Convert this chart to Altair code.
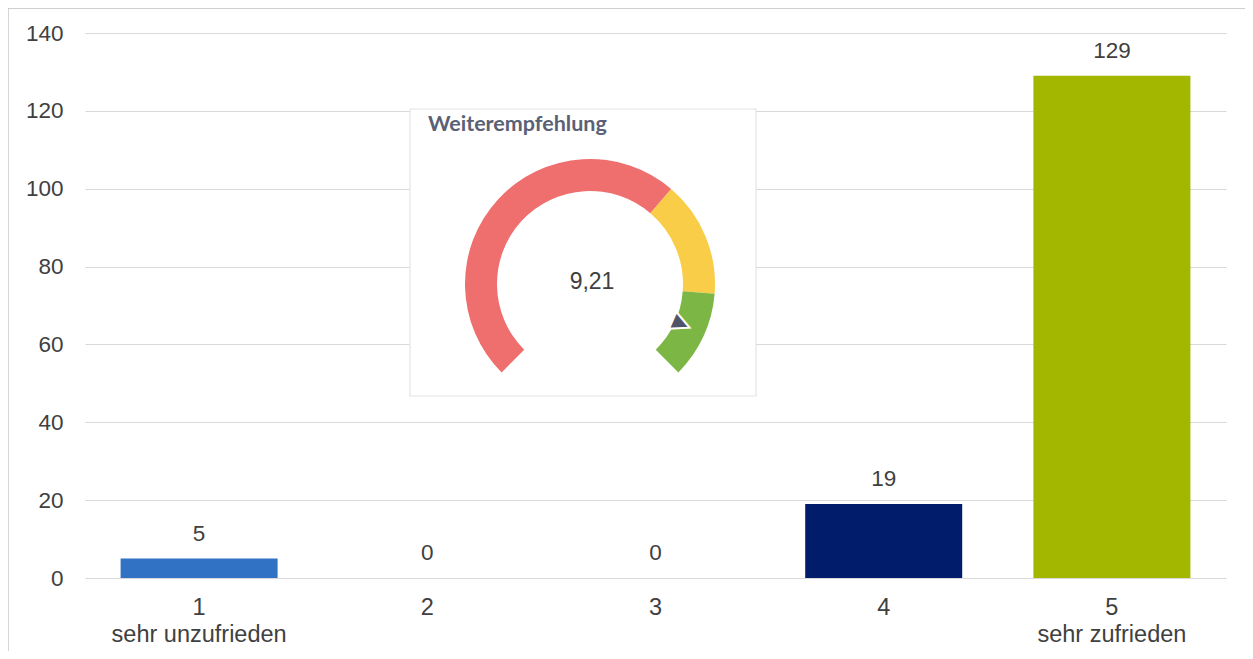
import math
import altair as alt
import pandas as pd

# ---- data ----
categories = ["1", "2", "3", "4", "5"]
sublabels = ["sehr unzufrieden", "", "", "", "sehr zufrieden"]
counts = [5, 0, 0, 19, 129]
bar_colors = ["#3172c4", "#3172c4", "#3172c4", "#001c6b", "#a3b600"]
y_ticks = [0, 20, 40, 60, 80, 100, 120, 140]

gauge_title = "Weiterempfehlung"
gauge_value = 9.21
gauge_min, gauge_max = 0, 10
seg_start = [0, 6.5, 8.5]
seg_end = [6.5, 8.5, 10]
seg_colors = ["#ef6e6e", "#f9cd48", "#7cb645"]

# ---- layout / style constants ----
W, H = 1141, 545
FONT = "Liberation Sans"
TXT = "#404040"
FS = 22.5
GX, GY = 505, 251          # gauge centre (px, inside plot area)
R_IN, R_OUT = 93, 125
SPAN = 135                 # half sweep in degrees

bars_df = pd.DataFrame({"cat": categories, "count": counts, "color": bar_colors})
seg_df = pd.DataFrame({"start": seg_start, "end": seg_end, "color": seg_colors})
val_df = pd.DataFrame({"v": [gauge_value],
                       "label": [f"{gauge_value:.2f}".replace(".", ",")],
                       "title": [gauge_title]})
one = pd.DataFrame({"k": [0]})

label_expr = " : ".join(
    f"datum.value == '{c}' ? ['{c}', '{s}']" for c, s in zip(categories, sublabels) if s
) + " : datum.label"

x_enc = alt.X("cat:N", sort=categories,
              scale=alt.Scale(paddingInner=0.312, paddingOuter=0.156),
              axis=alt.Axis(title=None, labelAngle=0, labelExpr=label_expr,
                            labelPadding=17, labelLineHeight=27, labelBaseline="top",
                            labelFontSize=23.5,
                            domain=False, ticks=False, grid=False))
y_enc = alt.Y("count:Q", scale=alt.Scale(domain=[0, 140], nice=False),
              axis=alt.Axis(title=None, values=y_ticks, grid=True, domain=False,
                            ticks=False, labelPadding=22))

border = alt.Chart(one).mark_rect(fill=None, stroke="#c0c0c0", strokeWidth=1.3).encode(
    x=alt.value(-77), x2=alt.value(3000), y=alt.value(-25), y2=alt.value(3000))

bars = alt.Chart(bars_df).mark_bar().encode(
    x=x_enc, y=y_enc, color=alt.Color("color:N", scale=None))

bar_labels = alt.Chart(bars_df).mark_text(
    font=FONT, fontSize=FS, color=TXT, baseline="middle", dy=-25).encode(
    x=alt.X("cat:N", sort=categories), y="count:Q", text="count:Q")

frame = alt.Chart(one).mark_rect(fill="white", stroke="#e4e4e4", strokeWidth=1.2).encode(
    x=alt.value(325), x2=alt.value(671), y=alt.value(76), y2=alt.value(363))

theta_scale = alt.Scale(domain=[gauge_min, gauge_max],
                        range=[-math.radians(SPAN), math.radians(SPAN)])

arcs = alt.Chart(seg_df).mark_arc(innerRadius=R_IN, outerRadius=R_OUT).encode(
    theta=alt.Theta("start:Q", scale=theta_scale, stack=None),
    theta2="end:Q",
    color=alt.Color("color:N", scale=None),
    x=alt.value(GX), y=alt.value(GY))

pointer = alt.Chart(val_df).transform_calculate(
    ang=f"{-SPAN} + {2 * SPAN} * (datum.v - {gauge_min}) / ({gauge_max - gauge_min})"
).mark_text(radius=100, font="DejaVu Sans", fontSize=24, color="#4f5468",
            stroke="white", strokeWidth=2, baseline="middle", align="center").encode(
    theta=alt.Theta("v:Q", scale=theta_scale, stack=None),
    angle=alt.Angle("ang:Q", scale=None),
    text=alt.value("▲"),
    x=alt.value(GX), y=alt.value(GY))

value_text = alt.Chart(val_df).mark_text(
    font=FONT, fontSize=23, color=TXT, baseline="middle", align="center").encode(
    text="label:N", x=alt.value(GX + 2), y=alt.value(GY - 2))

title_text = alt.Chart(val_df).mark_text(
    font="Lato", fontSize=21.5, fontWeight="bold", color="#5a6076",
    baseline="middle", align="left").encode(
    text="title:N", x=alt.value(343), y=alt.value(92))

chart = alt.layer(border, bars, bar_labels, frame, arcs, pointer, value_text, title_text).properties(
    width=W, height=H,
    autosize=alt.AutoSizeParams(type="none"),
    padding={"left": 77, "top": 25, "right": 19, "bottom": 73},
).configure_view(stroke=None).configure_axis(
    labelFont=FONT, labelFontSize=FS, labelColor=TXT,
    gridColor="#d9d9d9", gridWidth=1.2,
)

chart.save("out.html", embed_options={"renderer": "svg", "actions": False})
